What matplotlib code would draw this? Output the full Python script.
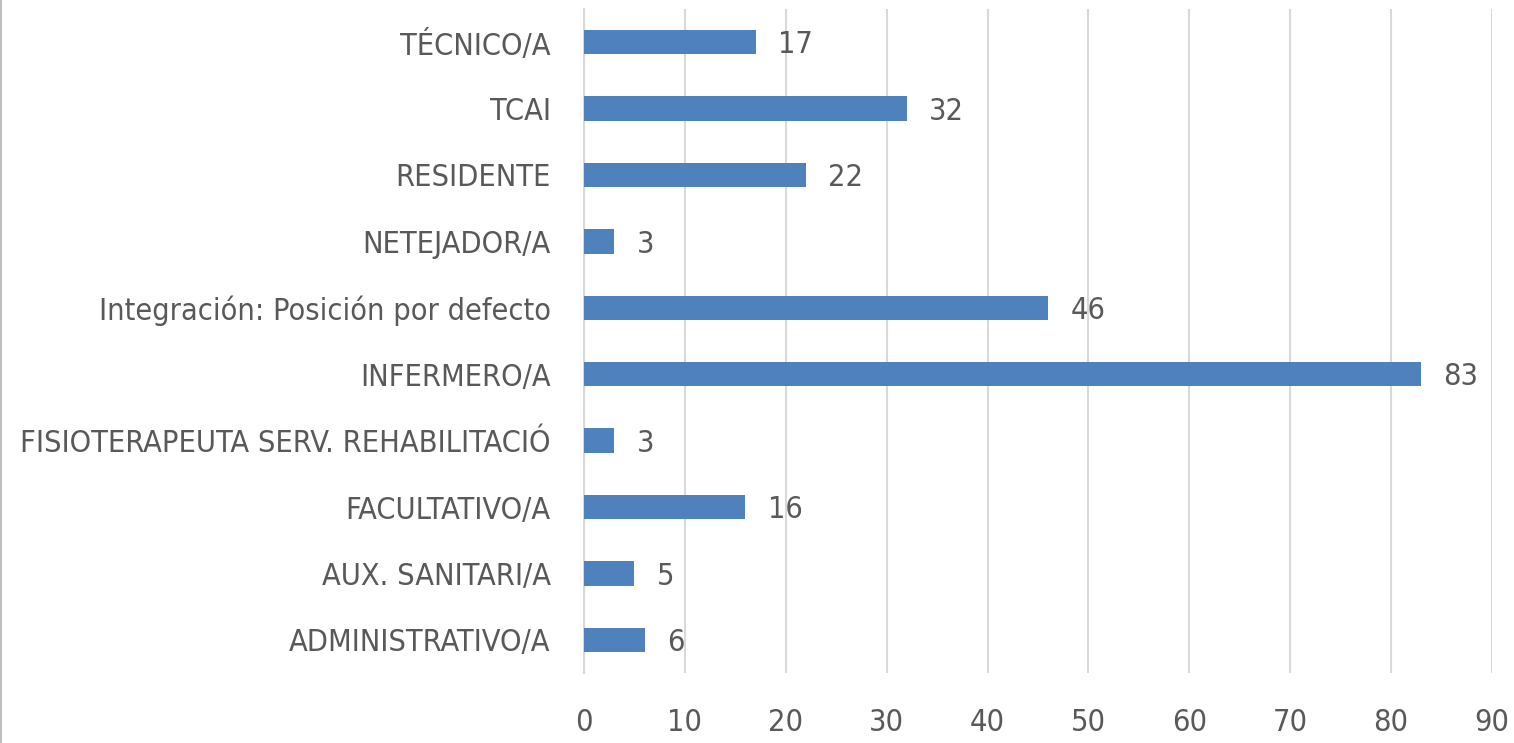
import matplotlib
matplotlib.use("Agg")
import matplotlib.pyplot as plt
from matplotlib.lines import Line2D
from matplotlib import font_manager

categories = ["TÉCNICO/A", "TCAI", "RESIDENTE", "NETEJADOR/A",
              "Integración: Posición por defecto", "INFERMERO/A",
              "FISIOTERAPEUTA SERV. REHABILITACIÓ", "FACULTATIVO/A",
              "AUX. SANITARI/A", "ADMINISTRATIVO/A"]
values = [17, 32, 22, 3, 46, 83, 3, 16, 5, 6]
xticks = [0, 10, 20, 30, 40, 50, 60, 70, 80, 90]

# pick a condensed font if one is installed
available = {f.name for f in font_manager.fontManager.ttflist}
condensed = [f for f in font_manager.fontManager.ttflist
             if f.stretch in ('condensed', 'semi-condensed', 'extra-condensed')
             or 'Narrow' in f.name or 'Condensed' in f.name]
stretch = 'normal'
if 'Liberation Sans Narrow' in available:
    fam, fs = 'Liberation Sans Narrow', 22
elif condensed:
    fam, fs = condensed[0].name, 22
    stretch = condensed[0].stretch
else:
    fam, fs = 'Liberation Sans', 18
plt.rcParams['font.family'] = [fam, 'DejaVu Sans']
plt.rcParams['font.stretch'] = stretch
text_color = '#595959'

fig = plt.figure(figsize=(15.14, 7.43), dpi=100)
ax = fig.add_axes([584/1514, 1 - 673/743, (1492-584)/1514, (673-9)/743])

ypos = list(range(len(categories)))
ax.barh(ypos, values, height=0.37, color='#4F81BD', zorder=3)
ax.set_ylim(len(categories) - 0.5, -0.5)
ax.set_xlim(0, 90)
ax.set_yticks(ypos)
ax.set_yticklabels(categories, fontsize=fs, color=text_color)
ax.set_xticks(xticks)
ax.set_xticklabels([str(t) for t in xticks], fontsize=fs, color=text_color)
ax.tick_params(axis='both', length=0)
ax.tick_params(axis='y', pad=24)
ax.tick_params(axis='x', pad=25)
ax.grid(axis='x', color='#d9d9d9', linewidth=1.5, zorder=0)
for s in ['top', 'right', 'bottom']:
    ax.spines[s].set_visible(False)
ax.spines['left'].set_color('#d9d9d9')
ax.spines['left'].set_linewidth(1.5)

for y, v in zip(ypos, values):
    ax.annotate(str(v), (v, y), xytext=(16, -2), textcoords='offset points',
                va='center', ha='left', fontsize=fs, color=text_color)

fig.add_artist(Line2D([0.0007, 0.0007], [0, 1], color='#bfbfbf', linewidth=1.5,
                      transform=fig.transFigure))

fig.savefig("out.png", dpi=100)
